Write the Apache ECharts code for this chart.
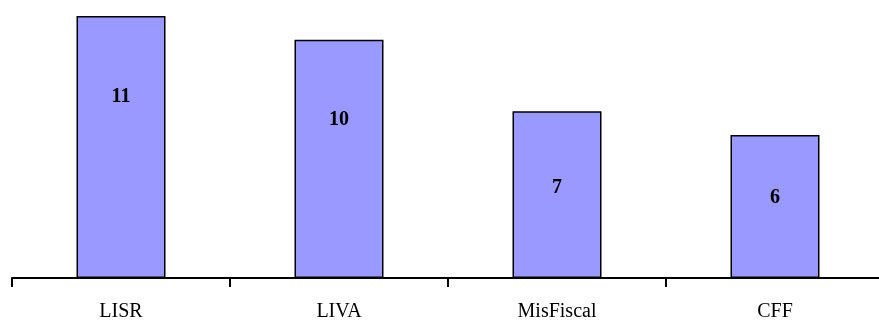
<!DOCTYPE html>
<html>
<head>
<meta charset="utf-8">
<script src="https://cdn.jsdelivr.net/npm/echarts@6/dist/echarts.min.js"></script>
<style>
  html, body { margin: 0; padding: 0; background: #fff; }
  #chart { width: 879px; height: 322px; }
</style>
</head>
<body>
<div id="chart"></div>
<script>
// Categories and counts per law
const categories = ['LISR', 'LIVA', 'MisFiscal', 'CFF'];
const values = [11, 10, 7, 6];

// Distance of each value label below its bar top (px)
const labelDistances = [71, 70, 67, 53];

const chart = echarts.init(document.getElementById('chart'), null, { renderer: 'canvas' });

chart.setOption({
  animation: false,
  backgroundColor: '#ffffff',
  grid: {
    left: 12, right: -5, top: 16, bottom: 44,
    containLabel: false,
    outerBoundsMode: 'none'
  },
  xAxis: {
    type: 'category',
    data: categories,
    boundaryGap: true,
    axisLine: { show: true, lineStyle: { color: '#000', width: 2 } },
    axisTick: { show: true, length: 9, lineStyle: { color: '#000', width: 2 } },
    axisLabel: {
      color: '#000',
      fontFamily: 'Liberation Serif, Times New Roman, serif',
      fontSize: 20,
      margin: 24
    }
  },
  yAxis: {
    type: 'value',
    min: 0,
    max: 11,
    show: false,
    splitLine: { show: false }
  },
  series: [{
    type: 'bar',
    barWidth: 89,
    data: values.map((v, i) => ({
      value: v,
      label: { distance: labelDistances[i] }
    })),
    itemStyle: { color: '#9999FF', borderColor: '#000', borderWidth: 1.5 },
    label: {
      show: true,
      position: 'insideTop',
      color: '#000',
      fontFamily: 'Liberation Serif, Times New Roman, serif',
      fontWeight: 'bold',
      fontSize: 20
    }
  }]
});
</script>
</body>
</html>
